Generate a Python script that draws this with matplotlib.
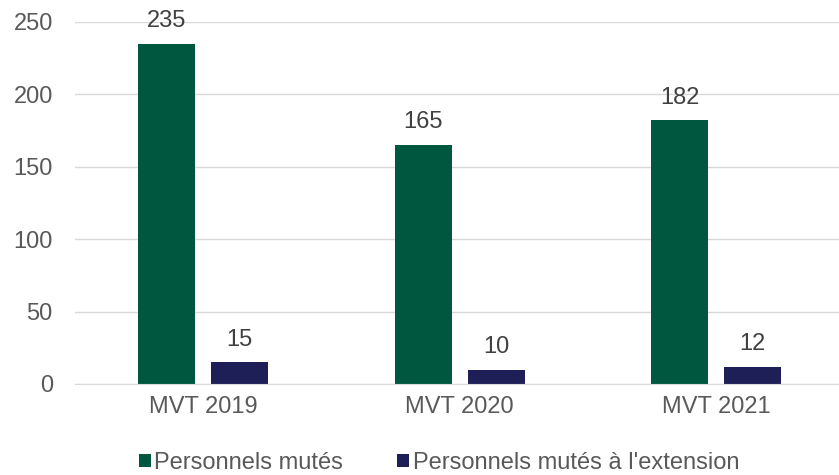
import numpy as np
import matplotlib
matplotlib.use("Agg")
from matplotlib import pyplot as plt

categories = ["MVT 2019", "MVT 2020", "MVT 2021"]
mutes = [235, 165, 182]
mutes_ext = [15, 10, 12]
series_names = ["Personnels mutés", "Personnels mutés à l'extension"]

plt.rcParams['font.family'] = ['Liberation Sans', 'DejaVu Sans']
fs = 17

fig = plt.figure(figsize=(8.39, 4.75), dpi=100)
ax = fig.add_axes([0.0894, 0.1916, 0.917, 0.7621])

x = np.arange(len(categories))
w = 0.222
off = 0.142
b1 = ax.bar(x - off, mutes, w, color="#00573F", label=series_names[0])
b2 = ax.bar(x + off, mutes_ext, w, color="#1F1F57", label=series_names[1])

for bars in (b1, b2):
    for r in bars:
        ax.annotate(str(int(r.get_height())), (r.get_x() + r.get_width()/2, r.get_height()),
                    xytext=(0, 12), textcoords='offset points',
                    ha='center', va='baseline', fontsize=fs, color="#404040")

ax.set_xlim(-0.5, 2.5)
ax.set_ylim(0, 250)
ax.set_yticks([0, 50, 100, 150, 200, 250])
ax.set_xticks(x)
ax.set_xticklabels(categories)
ax.tick_params(axis='both', length=0, labelsize=fs, labelcolor="#595959")
ax.tick_params(axis='y', pad=16)
ax.tick_params(axis='x', pad=9)
ax.yaxis.grid(True, color="#D9D9D9", linewidth=1)
ax.set_axisbelow(True)
for s in ["top", "right", "left"]:
    ax.spines[s].set_visible(False)
ax.spines["bottom"].set_color("#D9D9D9")

leg = ax.legend(loc='center', bbox_to_anchor=(0.473, -0.218), ncol=2, frameon=False,
                fontsize=fs, handlelength=0.5, handleheight=0.5, handletextpad=0.15,
                columnspacing=2.3, labelcolor="#595959", borderaxespad=0, borderpad=0)

fig.savefig("out.png", dpi=100)
